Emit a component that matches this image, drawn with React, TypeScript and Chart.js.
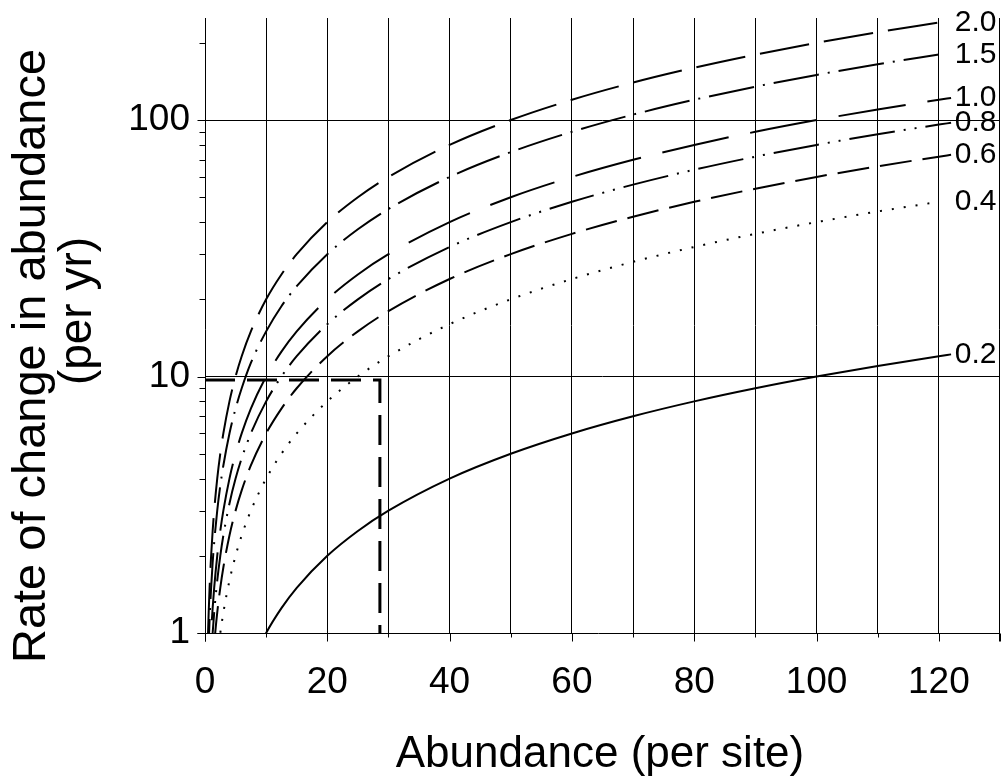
import React, { useEffect, useRef } from "react";
import { Chart, registerables } from "chart.js";

Chart.register(...registerables);

// Abundance (per site) sample positions along each curve
const abundance = [0.5, 0.6, 0.75, 1, 1.25, 1.5, 2, 2.5, 3, 4, 5, 6, 7.5, 10, 12.5, 15, 20, 25, 30, 40, 50, 60, 70, 80, 90, 100, 110, 120, 122];

// Rate of change in abundance (per yr), one list per curve
const rate20 = [1, 1.2, 1.5, 2, 2.5, 3, 4, 5, 6, 8, 10, 12, 15, 20, 25, 30, 40, 50, 60, 80, 100, 120, 140, 160, 180, 200, 220, 240, null];
const rate15 = [0.75, 0.9, 1.13, 1.5, 1.88, 2.25, 3, 3.75, 4.5, 6, 7.5, 9, 11.3, 15, 18.8, 22.5, 30, 37.5, 45, 60, 75, 90, 105, 120, 135, 150, 165, 180, null];
const rate10 = [0.5, 0.6, 0.75, 1, 1.25, 1.5, 2, 2.5, 3, 4, 5, 6, 7.5, 10, 12.5, 15, 20, 25, 30, 40, 50, 60, 70, 80, 90, 100, 110, 120, 122];
const rate08 = [0.4, 0.48, 0.6, 0.8, 1, 1.2, 1.6, 2, 2.4, 3.2, 4, 4.8, 6, 8, 10, 12, 16, 20, 24, 32, 40, 48, 56, 64, 72, 80, 88, 96, 97.6];
const rate06 = [0.3, 0.36, 0.45, 0.6, 0.75, 0.9, 1.2, 1.5, 1.8, 2.4, 3, 3.6, 4.5, 6, 7.5, 9, 12, 15, 18, 24, 30, 36, 42, 48, 54, 60, 66, 72, 73.2];
const rate04 = [0.2, 0.24, 0.3, 0.4, 0.5, 0.6, 0.8, 1, 1.2, 1.6, 2, 2.4, 3, 4, 5, 6, 8, 10, 12, 16, 20, 24, 28, 32, 36, 40, 44, 48, null];
const rate02 = [0.05, 0.06, 0.075, 0.1, 0.125, 0.15, 0.2, 0.25, 0.3, 0.4, 0.5, 0.6, 0.75, 1, 1.25, 1.5, 2, 2.5, 3, 4, 5, 6, 7, 8, 9, 10, 11, 12, 12.2];

const curveLabels = ["2.0", "1.5", "1.0", "0.8", "0.6", "0.4", "0.2"];
const curveSeries = [rate20, rate15, rate10, rate08, rate06, rate04, rate02];
const curveDashes = [[50, 15], [46, 9, 2, 9], [68, 22], [46, 9, 2, 9, 2, 9], [32, 11], [2, 10], []];

// Dashed reference box
const boxX = [0, 28.6, 28.6];
const boxY = [9.7, 9.7, 1];

// Axis ticks
const xTickValues = [0, 10, 20, 30, 40, 50, 60, 70, 80, 90, 100, 110, 120, 130];
const xLabelValues = [0, 20, 40, 60, 80, 100, 120];
const yTickValues = [1, 2, 3, 4, 5, 6, 7, 8, 9, 10, 20, 30, 40, 50, 60, 70, 80, 90, 100, 200];
const yLabelValues = [1, 10, 100];
const yGridValues = [10, 100];

const X_MIN = 0;
const X_MAX = 130;
const Y_MIN = 1;
const Y_MAX = 250;
const LABEL_AT_X = 122.6;

const FONT = "'Liberation Sans', Arial, Helvetica, sans-serif";

const decorPlugin = {
  id: "decor",
  afterDatasetsDraw(chart: any) {
    const ctx = chart.ctx;
    const xs = chart.scales.x;
    const ys = chart.scales.y;
    const area = chart.chartArea;
    ctx.save();
    ctx.strokeStyle = "#000";
    ctx.lineWidth = 1;
    const left = Math.round(xs.getPixelForValue(X_MIN)) + 0.5;
    const right = Math.round(xs.getPixelForValue(X_MAX)) - 0.5;
    const bottom = Math.round(ys.getPixelForValue(Y_MIN)) + 0.5;
    const top = area.top;
    ctx.beginPath();
    ctx.moveTo(left, top);
    ctx.lineTo(left, bottom + 8);
    ctx.moveTo(right, top);
    ctx.lineTo(right, bottom + 8);
    ctx.moveTo(left - 8, bottom);
    ctx.lineTo(right, bottom);
    xTickValues.forEach((v) => {
      const px = Math.round(xs.getPixelForValue(v)) + 0.5;
      const len = v % 20 === 0 || v === X_MAX ? 8 : 4;
      ctx.moveTo(px, bottom);
      ctx.lineTo(px, bottom + len);
    });
    yTickValues.forEach((v) => {
      const py = Math.round(ys.getPixelForValue(v)) + 0.5;
      const len = yLabelValues.includes(v) ? 8 : 6;
      ctx.moveTo(left, py);
      ctx.lineTo(left - len, py);
    });
    ctx.stroke();

    // curve labels
    ctx.fillStyle = "#000";
    ctx.font = `30px ${FONT}`;
    ctx.textAlign = "left";
    ctx.textBaseline = "middle";
    curveLabels.forEach((lab, i) => {
      const series = curveSeries[i];
      let idx = series.length - 1;
      while (idx > 0 && series[idx] == null) idx--;
      const py = ys.getPixelForValue(series[idx] as number);
      const px = xs.getPixelForValue(LABEL_AT_X);
      ctx.fillText(lab, px, py);
    });

    // axis titles
    ctx.font = `44px ${FONT}`;
    ctx.textAlign = "center";
    ctx.textBaseline = "alphabetic";
    ctx.fillText("Abundance (per site)", 600, 767);

    ctx.save();
    ctx.font = `47px ${FONT}`;
    ctx.translate(45, 356);
    ctx.rotate(-Math.PI / 2);
    ctx.fillText("Rate of change in abundance", 0, 0);
    ctx.restore();
    ctx.save();
    ctx.font = `46px ${FONT}`;
    ctx.translate(91, 311);
    ctx.rotate(-Math.PI / 2);
    ctx.fillText("(per yr)", 0, 0);
    ctx.restore();

    ctx.restore();
  },
};

const zeroPadding = (scale: any) => {
  scale.paddingTop = 0;
  scale.paddingBottom = 0;
  scale.paddingLeft = 0;
  scale.paddingRight = 0;
};

export default function App() {
  const canvasRef = useRef<HTMLCanvasElement | null>(null);

  useEffect(() => {
    if (!canvasRef.current) return;
    Chart.defaults.font.family = FONT;
    Chart.defaults.color = "#000";

    const datasets: any[] = curveSeries.map((series, i) => ({
      label: curveLabels[i],
      data: abundance.map((x, j) => ({ x, y: series[j] })),
      borderColor: "#000",
      borderWidth: 2,
      borderDash: curveDashes[i],
      borderCapStyle: "butt",
      pointRadius: 0,
      cubicInterpolationMode: "monotone",
      fill: false,
      spanGaps: false,
    }));
    datasets.push({
      label: "box",
      data: boxX.map((x, j) => ({ x, y: boxY[j] })),
      borderColor: "#000",
      borderWidth: 3,
      borderDash: [30, 12],
      borderCapStyle: "butt",
      pointRadius: 0,
      tension: 0,
      fill: false,
    });

    const chart = new Chart(canvasRef.current, {
      type: "line",
      data: { datasets },
      plugins: [decorPlugin],
      options: {
        animation: false,
        responsive: false,
        events: [],
        layout: { padding: { top: 18, right: 1, left: 0, bottom: 0 } },
        plugins: {
          legend: { display: false },
          tooltip: { enabled: false },
          title: { display: false },
        },
        scales: {
          x: {
            type: "linear",
            min: X_MIN,
            max: X_MAX,
            afterFit: (scale: any) => {
              scale.height = 145;
              zeroPadding(scale);
            },
            afterBuildTicks: (scale: any) => {
              scale.ticks = xTickValues.map((v) => ({ value: v }));
            },
            ticks: {
              autoSkip: false,
              maxRotation: 0,
              minRotation: 0,
              padding: 28,
              font: { size: 37, family: FONT },
              color: "#000",
              callback: (v: any) => (xLabelValues.includes(Number(v)) ? String(v) : ""),
            },
            grid: {
              drawTicks: false,
              lineWidth: 1,
              color: (c: any) => {
                const v = c.tick ? c.tick.value : 0;
                return v > X_MIN && v < X_MAX ? "#000" : "rgba(0,0,0,0)";
              },
            },
            border: { display: false },
          },
          y: {
            type: "logarithmic",
            min: Y_MIN,
            max: Y_MAX,
            afterFit: (scale: any) => {
              scale.width = 205;
              zeroPadding(scale);
            },
            afterBuildTicks: (scale: any) => {
              scale.ticks = yTickValues.map((v) => ({ value: v }));
            },
            ticks: {
              autoSkip: false,
              padding: 15,
              font: { size: 37, family: FONT },
              color: "#000",
              callback: (v: any) => (yLabelValues.includes(Number(v)) ? String(v) : ""),
            },
            grid: {
              drawTicks: false,
              lineWidth: 1,
              color: (c: any) => {
                const v = c.tick ? c.tick.value : 0;
                return yGridValues.includes(v) ? "#000" : "rgba(0,0,0,0)";
              },
            },
            border: { display: false },
          },
        },
      },
    });
    return () => chart.destroy();
  }, []);

  return (
    <div style={{ position: "absolute", left: 0, top: 0, width: 1001, height: 778, background: "#fff" }}>
      <canvas ref={canvasRef} width={1001} height={778} style={{ display: "block" }} />
    </div>
  );
}
